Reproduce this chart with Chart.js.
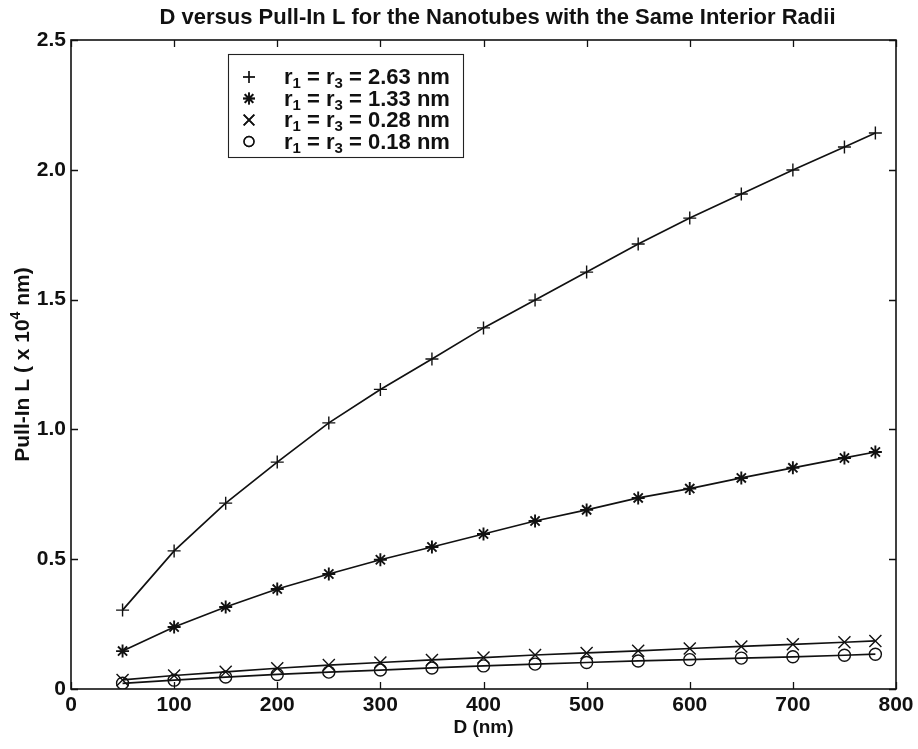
<!DOCTYPE html>
<html>
<head>
<meta charset="utf-8">
<script src="https://cdn.jsdelivr.net/npm/chart.js@4.4.1/dist/chart.umd.min.js"></script>
<style>
  html, body { margin: 0; padding: 0; background: #fff; }
  #wrap { width: 918px; height: 749px; position: relative; }
</style>
</head>
<body>
<div id="wrap"><canvas id="c" width="918" height="749"></canvas></div>
<script>
// ---- Data ----
const diameters = [50, 100, 150, 200, 250, 300, 350, 400, 450, 500, 550, 600, 650, 700, 750, 780];
const radiusLabels = ['2.63', '1.33', '0.28', '0.18'];
const pullIn263 = [0.304, 0.532, 0.716, 0.874, 1.025, 1.154, 1.271, 1.391, 1.498, 1.606, 1.714, 1.814, 1.907, 1.999, 2.088, 2.142];
const pullIn133 = [0.146, 0.239, 0.316, 0.385, 0.443, 0.498, 0.547, 0.597, 0.647, 0.690, 0.736, 0.772, 0.813, 0.852, 0.890, 0.913];
const pullIn028 = [0.035, 0.052, 0.066, 0.080, 0.092, 0.102, 0.112, 0.121, 0.131, 0.139, 0.147, 0.156, 0.164, 0.172, 0.180, 0.185];
const pullIn018 = [0.022, 0.034, 0.046, 0.056, 0.065, 0.073, 0.081, 0.089, 0.096, 0.102, 0.108, 0.113, 0.119, 0.124, 0.130, 0.134];
const xTickValues = [0, 100, 200, 300, 400, 500, 600, 700, 800];
const yTickValues = [0, 0.5, 1.0, 1.5, 2.0, 2.5];
const chartTitle = 'D versus Pull-In L for the Nanotubes with the Same Interior Radii';
const xTitle = 'D (nm)';

const FONT = '"Liberation Sans", Arial, Helvetica, sans-serif';
const INK = '#111';

const seriesValues = [pullIn263, pullIn133, pullIn028, pullIn018];
const markerStyles = ['cross', 'star', 'crossRot', 'circle'];
const markerRadius = { cross: 6.5, star: 6.5, crossRot: 8.5, circle: 6 };

const datasets = seriesValues.map((vals, i) => ({
  label: 'r1 = r3 = ' + radiusLabels[i] + ' nm',
  data: diameters.map((d, j) => ({ x: d, y: vals[j] })),
  showLine: true,
  borderColor: INK,
  borderWidth: 1.7,
  backgroundColor: 'rgba(0,0,0,0)',
  pointStyle: markerStyles[i],
  pointRadius: markerRadius[markerStyles[i]],
  pointBorderColor: INK,
  pointBorderWidth: markerStyles[i] === 'star' ? 1.9 : 1.4,
  pointBackgroundColor: 'rgba(0,0,0,0)',
  tension: 0
}));

const framePlugin = {
  id: 'frame',
  afterDraw(chart) {
    const { ctx, chartArea: a, scales } = chart;
    const xs = scales.x, ys = scales.y;
    ctx.save();
    ctx.strokeStyle = INK;
    ctx.lineWidth = 1.6;
    ctx.strokeRect(a.left, a.top, a.right - a.left, a.bottom - a.top);
    const tl = 7;
    ctx.lineWidth = 1.3;
    ctx.beginPath();
    xTickValues.forEach(v => {
      const px = Math.round(xs.getPixelForValue(v)) + 0.5;
      ctx.moveTo(px, a.bottom); ctx.lineTo(px, a.bottom - tl);
      ctx.moveTo(px, a.top); ctx.lineTo(px, a.top + tl);
    });
    yTickValues.forEach(v => {
      const py = Math.round(ys.getPixelForValue(v)) + 0.5;
      ctx.moveTo(a.left, py); ctx.lineTo(a.left + tl, py);
      ctx.moveTo(a.right, py); ctx.lineTo(a.right - tl, py);
    });
    ctx.stroke();

    // Title
    ctx.fillStyle = INK;
    ctx.textAlign = 'center';
    ctx.textBaseline = 'middle';
    ctx.font = 'bold 22px ' + FONT;
    ctx.fillText(chartTitle, (a.left + a.right) / 2 + 14, 18);

    // Y axis title (rotated, with superscript)
    ctx.save();
    ctx.translate(21, (a.top + a.bottom) / 2);
    ctx.rotate(-Math.PI / 2);
    const big = 'bold 21px ' + FONT, small = 'bold 14px ' + FONT;
    const p1 = 'Pull-In L ( x 10', p2 = '4', p3 = ' nm)';
    ctx.font = big; const w1 = ctx.measureText(p1).width, w3 = ctx.measureText(p3).width;
    ctx.font = small; const w2 = ctx.measureText(p2).width;
    let x0 = -(w1 + w2 + w3) / 2;
    ctx.textAlign = 'left';
    ctx.textBaseline = 'alphabetic';
    ctx.font = big; ctx.fillText(p1, x0, 8);
    ctx.font = small; ctx.fillText(p2, x0 + w1, -1);
    ctx.font = big; ctx.fillText(p3, x0 + w1 + w2, 8);
    ctx.restore();

    // Legend
    const lx = a.left + 157, ly = a.top + 14, lw = 235, lh = 103;
    ctx.fillStyle = '#fff';
    ctx.fillRect(lx, ly, lw, lh);
    ctx.strokeStyle = '#222';
    ctx.lineWidth = 1.1;
    ctx.strokeRect(lx + 0.5, ly + 0.5, lw, lh);
    chart.data.datasets.forEach((ds, i) => {
      const cy = ly + 23 + i * 21.5;
      const mx = lx + 21;
      ctx.fillStyle = 'rgba(0,0,0,0)';
      ctx.strokeStyle = INK;
      Chart.helpers.drawPoint(ctx, {
        pointStyle: ds.pointStyle,
        radius: ds.pointStyle === 'crossRot' ? 7.5 : (ds.pointStyle === 'circle' ? 5 : 6),
        borderWidth: 1.3
      }, mx, cy);
      ctx.lineWidth = ds.pointStyle === 'star' ? 1.8 : 1.3;
      ctx.stroke();
      // text r1 = r3 = X nm
      ctx.fillStyle = INK;
      ctx.textAlign = 'left';
      ctx.textBaseline = 'alphabetic';
      const base = cy + 7;
      let tx = lx + 56;
      const f = 'bold 22px ' + FONT, fs = 'bold 15px ' + FONT;
      const parts = [['r', f, 0], ['1', fs, 4], [' = r', f, 0], ['3', fs, 4], [' = ' + radiusLabels[i] + ' nm', f, 0]];
      parts.forEach(([t, font, dy]) => {
        ctx.font = font;
        ctx.fillText(t, tx, base + dy);
        tx += ctx.measureText(t).width;
      });
    });
    ctx.restore();
  }
};

new Chart(document.getElementById('c'), {
  type: 'scatter',
  data: { datasets },
  options: {
    responsive: false,
    animation: false,
    devicePixelRatio: 1,
    layout: { padding: { top: 40, right: 22, left: 0, bottom: 0 } },
    plugins: { legend: { display: false }, title: { display: false }, tooltip: { enabled: false } },
    scales: {
      x: {
        type: 'linear', min: 0, max: 800,
        afterBuildTicks: s => { s.ticks = xTickValues.map(v => ({ value: v })); },
        afterFit: s => { s.height = 60; },
        grid: { display: false, drawTicks: false },
        border: { display: false },
        ticks: {
          color: INK, padding: 4, maxRotation: 0, autoSkip: false,
          font: { family: FONT, size: 21, weight: 'bold' },
          callback: v => String(v)
        },
        title: {
          display: true, text: xTitle, color: INK,
          font: { family: FONT, size: 19, weight: 'bold' },
          padding: { top: 0, bottom: 10 }
        }
      },
      y: {
        type: 'linear', min: 0, max: 2.5,
        afterBuildTicks: s => { s.ticks = yTickValues.map(v => ({ value: v })); },
        afterFit: s => { s.width = 71; },
        grid: { display: false, drawTicks: false },
        border: { display: false },
        ticks: {
          color: INK, padding: 5, autoSkip: false,
          font: { family: FONT, size: 21, weight: 'bold' },
          callback: v => (v === 0 ? '0' : Number(v).toFixed(1))
        }
      }
    }
  },
  plugins: [framePlugin]
});
</script>
</body>
</html>
